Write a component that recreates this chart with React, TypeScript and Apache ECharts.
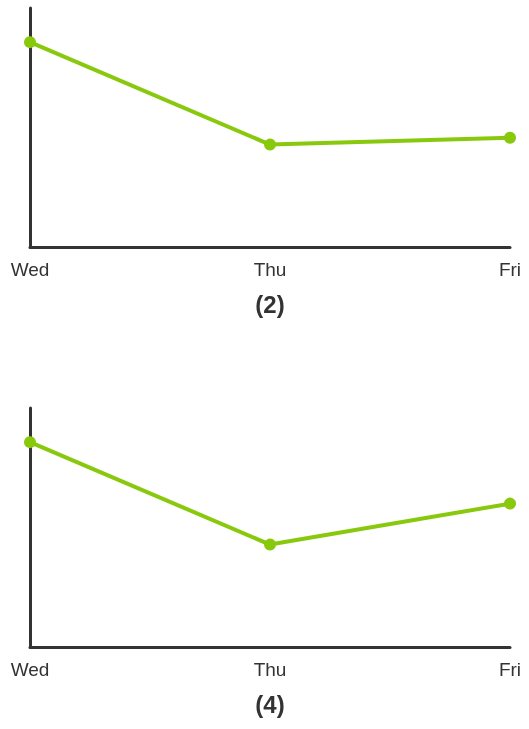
import React, { useEffect, useRef } from "react";
import * as echarts from "echarts";

const categories = ["Wed", "Thu", "Fri"];
const seriesA = [120, 60, 64];
const seriesB = [120, 60, 84];
const titles = ["(2)", "(4)"];
const yMax = 140;

export default function App() {
  const ref = useRef<HTMLDivElement>(null);
  useEffect(() => {
    if (!ref.current) return;
    const chart = echarts.init(ref.current, undefined, { renderer: "svg" });
    const green = "#88c90e";
    const tops = [8, 408];
    const datas = [seriesA, seriesB];
    const ff = "Liberation Sans, Arial, sans-serif";
    chart.setOption({
      animation: false,
      graphic: titles.map((t, i) => ({
        type: "text",
        x: 270,
        y: tops[i] + 296,
        style: {
          text: t,
          font: `bold 24px ${ff}`,
          fill: "#333",
          align: "center",
          verticalAlign: "middle",
          textAlign: "center",
          textVerticalAlign: "middle",
        },
      })),
      grid: tops.map((t) => ({ left: 30, top: t, width: 480, height: 239 })),
      xAxis: tops.map((_, i) => ({
        type: "category",
        gridIndex: i,
        data: categories,
        boundaryGap: false,
        axisLine: { lineStyle: { color: "#333", width: 3 } },
        axisTick: { show: false },
        axisLabel: { fontSize: 19, color: "#333", margin: 13, fontFamily: ff },
      })),
      yAxis: tops.map((_, i) => ({
        type: "value",
        gridIndex: i,
        min: 0,
        max: yMax,
        axisLine: { show: true, lineStyle: { color: "#333", width: 3 } },
        axisTick: { show: false },
        axisLabel: { show: false },
        splitLine: { show: false },
      })),
      series: datas.map((d, i) => ({
        type: "line",
        xAxisIndex: i,
        yAxisIndex: i,
        data: d,
        symbol: "circle",
        symbolSize: 12,
        itemStyle: { color: green },
        lineStyle: { color: green, width: 4 },
      })),
    });
    return () => chart.dispose();
  }, []);
  return <div ref={ref} style={{ position: "fixed", left: 0, top: 0, width: 529, height: 729 }} />;
}
